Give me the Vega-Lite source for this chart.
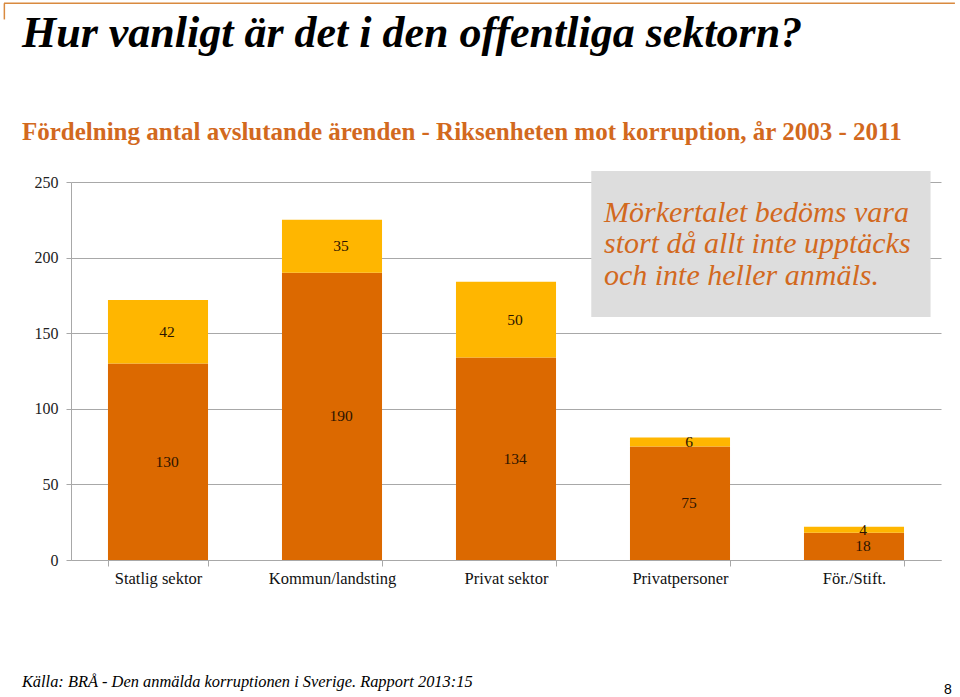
{
  "$schema": "https://vega.github.io/schema/vega-lite/v6.json",
  "width": 870,
  "height": 378,
  "autosize": {"type": "none"},
  "padding": {"left": 71, "top": 182, "right": 19, "bottom": 137},
  "background": "white",
  "config": {
    "view": {"stroke": null},
    "font": "Liberation Serif"
  },
  "resolve": {"scale": {"x": "independent"}, "axis": {"x": "independent", "y": "independent"}},
  "layer": [
    {
      "data": {
        "values": [
          {"sektor": "Statlig sektor", "segment": "nedre", "antal": 130},
          {"sektor": "Statlig sektor", "segment": "övre", "antal": 42},
          {"sektor": "Kommun/landsting", "segment": "nedre", "antal": 190},
          {"sektor": "Kommun/landsting", "segment": "övre", "antal": 35},
          {"sektor": "Privat sektor", "segment": "nedre", "antal": 134},
          {"sektor": "Privat sektor", "segment": "övre", "antal": 50},
          {"sektor": "Privatpersoner", "segment": "nedre", "antal": 75},
          {"sektor": "Privatpersoner", "segment": "övre", "antal": 6},
          {"sektor": "För./Stift.", "segment": "nedre", "antal": 18},
          {"sektor": "För./Stift.", "segment": "övre", "antal": 4}
        ]
      },
      "layer": [
        {
          "mark": {"type": "bar"},
          "encoding": {
            "x": {
              "field": "sektor", "type": "nominal",
              "sort": ["Statlig sektor", "Kommun/landsting", "Privat sektor", "Privatpersoner", "För./Stift."],
              "scale": {"paddingInner": 0.425, "paddingOuter": 0.2125},
              "axis": {
                "title": null, "labelAngle": 0, "tickBand": "extent", "tickSize": 6,
                "domainColor": "#A8A8A8", "tickColor": "#A8A8A8",
                "labelFont": "Liberation Serif", "labelFontSize": 16.5, "labelColor": "#111111",
                "labelPadding": 4
              }
            },
            "y": {
              "field": "antal", "type": "quantitative", "stack": "zero",
              "scale": {"domain": [0, 250], "nice": false},
              "axis": {
                "title": null, "values": [0, 50, 100, 150, 200, 250],
                "grid": true, "gridColor": "#A8A8A8", "domainColor": "#A8A8A8", "tickColor": "#A8A8A8",
                "tickSize": 5, "labelPadding": 8,
                "labelFont": "Liberation Serif", "labelFontSize": 16, "labelColor": "#222222"
              }
            },
            "color": {
              "field": "segment", "type": "nominal",
              "scale": {"domain": ["nedre", "övre"], "range": ["#DC6900", "#FFB600"]},
              "legend": null
            },
            "order": {"field": "segment", "sort": "ascending"}
          }
        },
        {
          "transform": [
            {"stack": "antal", "groupby": ["sektor"], "sort": [{"field": "segment", "order": "ascending"}], "as": ["y0", "y1"]},
            {"fold": ["y0", "y1"], "as": ["kant", "pos"]},
            {"aggregate": [{"op": "mean", "field": "pos", "as": "mitt"}], "groupby": ["sektor", "segment", "antal"]}
          ],
          "mark": {"type": "text", "font": "Liberation Serif", "fontSize": 15.5, "color": "#2B1400", "baseline": "middle", "dx": 9},
          "encoding": {
            "x": {"field": "sektor", "type": "nominal", "sort": ["Statlig sektor", "Kommun/landsting", "Privat sektor", "Privatpersoner", "För./Stift."]},
            "y": {"field": "mitt", "type": "quantitative", "axis": {"title": null, "values": [0, 50, 100, 150, 200, 250],
                "grid": true, "gridColor": "#A8A8A8", "domainColor": "#A8A8A8", "tickColor": "#A8A8A8",
                "tickSize": 5, "labelPadding": 8,
                "labelFont": "Liberation Serif", "labelFontSize": 16, "labelColor": "#222222"}},
            "text": {"field": "antal", "type": "quantitative"}
          }
        }
      ]
    },
    {
      "layer": [
        {
          "data": {"values": [{}]},
          "mark": {"type": "rect", "color": "#DDDDDD"},
          "encoding": {
            "x": {"datum": 2.99, "type": "quantitative", "scale": {"domain": [0, 5], "nice": false, "zero": false}, "axis": null},
            "x2": {"datum": 4.94},
            "y": {"datum": 257.3, "type": "quantitative", "axis": null},
            "y2": {"datum": 160.7}
          }
        },
        {
          "data": {"values": [{"rad": "Mörkertalet bedöms vara", "nivå": 223.3}, {"rad": "stort då allt inte upptäcks", "nivå": 202.8}, {"rad": "och inte heller anmäls.", "nivå": 181.9}]},
          "mark": {"type": "text", "font": "Liberation Serif", "fontStyle": "italic", "fontSize": 30, "color": "#D2691E", "align": "left", "baseline": "alphabetic"},
          "encoding": {
            "x": {"datum": 3.063, "type": "quantitative", "axis": null},
            "y": {"field": "nivå", "type": "quantitative", "axis": null},
            "text": {"field": "rad"}
          }
        },
        {
          "data": {"values": [{"text": "Hur vanligt är det i den offentliga sektorn?"}]},
          "mark": {"type": "text", "font": "Liberation Serif", "fontStyle": "italic", "fontWeight": "bold", "fontSize": 44, "color": "#000000", "align": "left", "baseline": "alphabetic"},
          "encoding": {
            "x": {"datum": -0.282, "type": "quantitative", "axis": null},
            "y": {"datum": 339.3, "type": "quantitative", "axis": null},
            "text": {"field": "text"}
          }
        },
        {
          "data": {"values": [{"text": "Fördelning antal avslutande ärenden  - Riksenheten mot korruption, år 2003 - 2011"}]},
          "mark": {"type": "text", "font": "Liberation Serif", "fontWeight": "bold", "fontSize": 25, "color": "#D2691E", "align": "left", "baseline": "alphabetic"},
          "encoding": {
            "x": {"datum": -0.282, "type": "quantitative", "axis": null},
            "y": {"datum": 277.8, "type": "quantitative", "axis": null},
            "text": {"field": "text"}
          }
        },
        {
          "data": {"values": [{"text": "Källa: BRÅ - Den anmälda korruptionen i Sverige. Rapport 2013:15"}]},
          "mark": {"type": "text", "font": "Liberation Serif", "fontStyle": "italic", "fontSize": 16.4, "color": "#000000", "align": "left", "baseline": "alphabetic"},
          "encoding": {
            "x": {"datum": -0.282, "type": "quantitative", "axis": null},
            "y": {"datum": -84.2, "type": "quantitative", "axis": null},
            "text": {"field": "text"}
          }
        },
        {
          "data": {"values": [{"text": "8"}]},
          "mark": {"type": "text", "font": "Liberation Sans", "fontSize": 14, "color": "#000000", "align": "center", "baseline": "alphabetic"},
          "encoding": {
            "x": {"datum": 5.04, "type": "quantitative", "axis": null},
            "y": {"datum": -88.4, "type": "quantitative", "axis": null},
            "text": {"field": "text"}
          }
        },
        {
          "data": {"values": [{}]},
          "mark": {"type": "rule", "color": "#D98A3F", "strokeWidth": 1.5},
          "encoding": {
            "x": {"datum": -0.385, "type": "quantitative", "axis": null},
            "x2": {"datum": 5.08},
            "y": {"datum": 368.2, "type": "quantitative", "axis": null}
          }
        },
        {
          "data": {"values": [{}]},
          "mark": {"type": "rule", "color": "#D98A3F", "strokeWidth": 1.5},
          "encoding": {
            "x": {"datum": -0.383, "type": "quantitative", "axis": null},
            "y": {"datum": 368.2, "type": "quantitative", "axis": null},
            "y2": {"datum": 357.5}
          }
        }
      ]
    }
  ]
}
